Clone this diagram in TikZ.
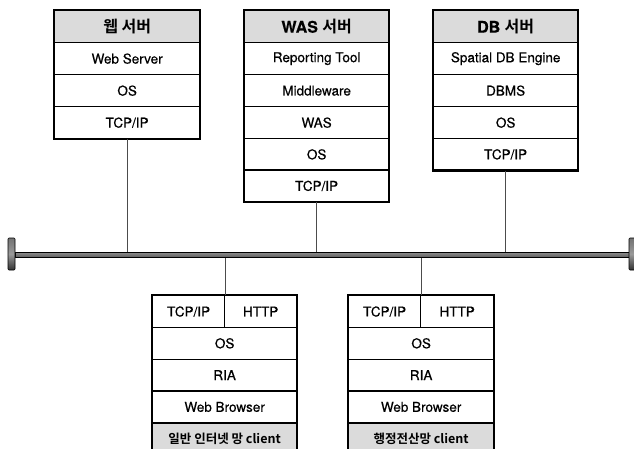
\documentclass[tikz,border=0pt]{standalone}
\usepackage{fontspec}
\setmainfont{TeX Gyre Heros}[FakeBold=0.6]
\newfontfamily\rowfont{TeX Gyre Heros}[FakeBold=0.5]
\newfontfamily\kr{Noto Sans CJK KR}[BoldFont={Noto Sans CJK KR Bold}]
\begin{document}
\begin{tikzpicture}[x=1pt,y=-1pt,
  cell/.style={draw=black, line width=1.3pt, fill=white, inner sep=0pt, anchor=north west,
    minimum height=32pt, font=\fontsize{13.5}{15}\rowfont},
  hcell/.style={cell, fill=gray!28, font=\fontsize{16}{18}\selectfont\bfseries},
  ccell/.style={cell, minimum height=31.8pt},
  lcell/.style={ccell, fill=gray!28, font=\fontsize{12.5}{14}\selectfont\kr\bfseries},
  frame/.style={draw=black, line width=2.2pt},
  link/.style={draw=black!70, line width=0.8pt},
  capbox/.style={draw=black, line width=0.6pt, rounded corners=1pt, top color=black!55, bottom color=black!80, middle color=black!40, minimum width=7pt, minimum height=32pt, inner sep=0pt}]
\clip (0,0) rectangle (634,449);
\fill[white] (0,0) rectangle (634,449);
% bus
\node[draw=black, line width=0.7pt, top color=black!45, bottom color=black!65, minimum width=614pt, minimum height=5.5pt, inner sep=0pt] (bus) at (322,255) {};
\node[capbox] (capl) at (11.5,254) {};
\node[capbox] (capr) at (632.5,254) {};
% web server
\begin{scope}[every node/.append style={minimum width=145pt}]
\node[hcell] (w0) at (54,10) {{\kr\bfseries 웹 서버}};
\node[cell] (w1) at (54,42) {Web Server};
\node[cell] (w2) at (54,74) {OS};
\node[cell] (w3) at (54,106) {TCP/IP};
\end{scope}
\draw[frame] (w0.north west) rectangle (w3.south east);
% WAS server
\begin{scope}[every node/.append style={minimum width=144pt}]
\node[hcell] (a0) at (244,10) {WAS {\kr\bfseries 서버}};
\node[cell] (a1) at (244,42) {Reporting Tool};
\node[cell] (a2) at (244,74) {Middleware};
\node[cell] (a3) at (244,106) {WAS};
\node[cell, minimum height=31.5pt] (a4) at (244,138) {OS};
\node[cell, minimum height=31.5pt] (a5) at (244,169.5) {TCP/IP};
\end{scope}
\draw[frame] (a0.north west) rectangle (a5.south east);
% DB server
\begin{scope}[every node/.append style={minimum width=144pt}]
\node[hcell] (d0) at (433,10) {DB {\kr\bfseries 서버}};
\node[cell] (d1) at (433,42) {Spatial DB Engine};
\node[cell] (d2) at (433,74) {DBMS};
\node[cell] (d3) at (433,106) {OS};
\node[cell, minimum height=31.5pt] (d4) at (433,138) {TCP/IP};
\end{scope}
\draw[frame] (d0.north west) rectangle (d4.south east);
% client 1
\node[ccell, minimum width=72pt] (p0) at (152,295) {TCP/IP};
\node[ccell, minimum width=72pt] (p1) at (224,295) {HTTP};
\begin{scope}[every node/.append style={minimum width=144pt}]
\node[ccell] (p2) at (152,326.8) {OS};
\node[ccell] (p3) at (152,358.6) {RIA};
\node[ccell] (p4) at (152,390.4) {Web Browser};
\node[lcell] (p5) at (152,422.2) {일반 인터넷 망 client};
\end{scope}
\draw[frame] (p0.north west) rectangle (p5.south -| p1.east);
% client 2
\node[ccell, minimum width=72pt] (q0) at (348,295) {TCP/IP};
\node[ccell, minimum width=73pt] (q1) at (420,295) {HTTP};
\begin{scope}[every node/.append style={minimum width=145pt}]
\node[ccell] (q2) at (348,326.8) {OS};
\node[ccell] (q3) at (348,358.6) {RIA};
\node[ccell] (q4) at (348,390.4) {Web Browser};
\node[lcell] (q5) at (348,422.2) {행정전산망 client};
\end{scope}
\draw[frame] (q0.north west) rectangle (q5.south -| q1.east);
% links
\draw[link] ([xshift=0.5pt]w3.south) -- ([xshift=0.5pt]bus.north -| w3.south);
\draw[link] (a5.south) -- (bus.north -| a5.south);
\draw[link] (d4.south) -- (bus.north -| d4.south);
\draw[link] (bus.south -| p0.north east) -- (p0.north east);
\draw[link] (bus.south -| q0.north east) -- (q0.north east);
\end{tikzpicture}
\end{document}
